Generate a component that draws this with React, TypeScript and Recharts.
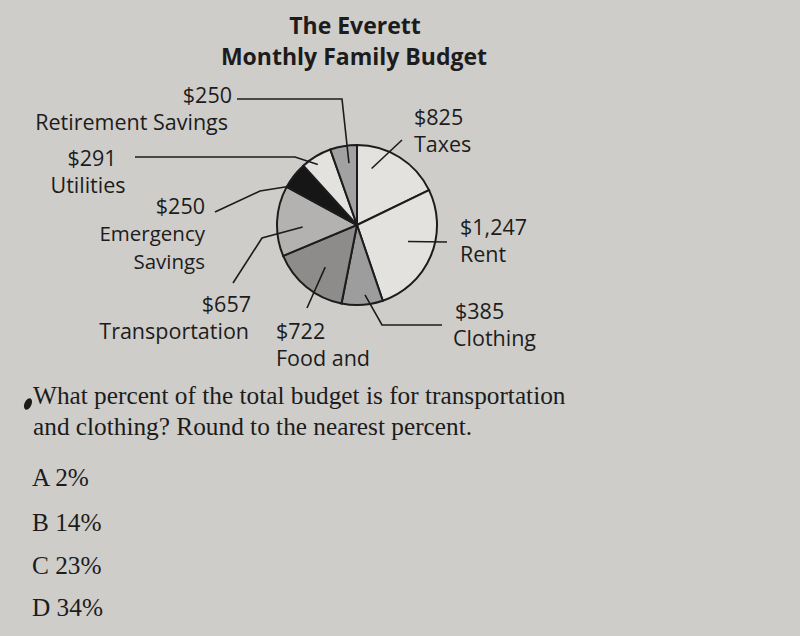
import React from "react";
import { PieChart, Pie, Cell } from "recharts";

// ---- data ----
const categories = ["Taxes", "Rent", "Clothing", "Food and", "Transportation", "Emergency Savings", "Utilities", "Retirement Savings"];
const amounts = [825, 1247, 385, 722, 657, 250, 291, 250];
const nameLines = [["Taxes"], ["Rent"], ["Clothing"], ["Food and"], ["Transportation"], ["Emergency", "Savings"], ["Utilities"], ["Retirement Savings"]];
const titleLines = ["The Everett", "Monthly Family Budget"];
const questionLines = ["What percent of the total budget is for transportation", "and clothing? Round to the nearest percent."];
const choices = ["A 2%", "B 14%", "C 23%", "D 34%"];

const data = categories.map((name, i) => ({ name, value: amounts[i] }));

// ---- styles / layout ----
const PAPER = "#cfcdca";
const INK = "#1c1c1c";
const sliceFill = ["#e4e2df", "#e4e2df", "#9d9d9d", "#8d8c8b", "#b3b2b0", "#161616", "#e4e2df", "#a2a2a2"];
const SANS = "'Open Sans', 'Noto Sans', sans-serif";
const SERIF = "'Liberation Serif', 'DejaVu Serif', serif";
const LABEL_SIZE = 21.5;

// anchor: angle clockwise from north (deg) and fraction of radius where leader begins
type Lay = { a: number; rf: number; pts: [number, number][]; x: number; y: number; anchor: "start" | "end" | "middle"; nx?: number };
const layout: Lay[] = [
  { a: 14.5, rf: 0.73, pts: [[402, 140]], x: 414, y: 125, anchor: "start" },
  { a: 108, rf: 0.67, pts: [[447, 242]], x: 460, y: 235, anchor: "start" },
  { a: 173.5, rf: 0.88, pts: [[382, 325], [442, 325]], x: 455, y: 319, anchor: "start", nx: 453 },
  { a: 217, rf: 0.66, pts: [[307, 308]], x: 276, y: 339, anchor: "start" },
  { a: 268, rf: 0.68, pts: [[262, 238], [233, 283]], x: 251, y: 312, anchor: "end", nx: 249 },
  { a: 298.5, rf: 1.0, pts: [[260, 191], [215, 212]], x: 205, y: 214, anchor: "end" },
  { a: 327, rf: 0.9, pts: [[295, 157], [135, 157]], x: 92, y: 166, anchor: "middle", nx: 88 },
  { a: 352.6, rf: 0.78, pts: [[342, 99], [237, 99]], x: 232, y: 103, anchor: "end", nx: 228 },
];

const renderLabel = (props: any) => {
  const { cx, cy, outerRadius, index } = props;
  const L = layout[index];
  const rad = (L.a * Math.PI) / 180;
  const sx = cx + outerRadius * L.rf * Math.sin(rad);
  const sy = cy - outerRadius * L.rf * Math.cos(rad);
  const points = [[sx, sy], ...L.pts].map((p) => p.join(",")).join(" ");
  const valueText = "$" + amounts[index].toLocaleString("en-US");
  const nx = L.nx ?? L.x;
  return (
    <g key={`lab-${index}`}>
      <polyline points={points} fill="none" stroke={INK} strokeWidth={1.6} />
      <text x={L.x} y={L.y} textAnchor={L.anchor} fontFamily={SANS} fontSize={LABEL_SIZE} fill={INK}>
        {valueText}
      </text>
      {nameLines[index].map((ln, j) => (
        <text key={j} x={nx} y={L.y + 27 + j * 28} textAnchor={L.anchor} fontFamily={SANS} fontSize={nameLines[index].length > 1 ? 20.5 : LABEL_SIZE} fill={INK}>
          {ln}
        </text>
      ))}
    </g>
  );
};

export default function App() {
  return (
    <div style={{ position: "fixed", left: 0, top: 0, width: 800, height: 636, background: PAPER, overflow: "hidden" }}>
      <svg width={800} height={636} style={{ position: "absolute", left: 0, top: 0 }}>
        <text x={355} y={34} textAnchor="middle" fontFamily={SANS} fontWeight={700} fontSize={23} fill={INK}>{titleLines[0]}</text>
        <text x={354} y={65} textAnchor="middle" fontFamily={SANS} fontWeight={700} fontSize={23} fill={INK}>{titleLines[1]}</text>
        <ellipse cx={28} cy={404} rx={3.5} ry={6} transform="rotate(25 28 404)" fill={INK} />
        {questionLines.map((q, i) => (
          <text key={q} x={33} y={404 + i * 31} fontFamily={SERIF} fontSize={25.3} fill={INK}>{q}</text>
        ))}
        {choices.map((c, i) => (
          <text key={c} x={32} y={[486, 531, 574, 616][i]} fontFamily={SERIF} fontSize={25.3} fill={INK}>{c}</text>
        ))}
      </svg>
      <div style={{ position: "absolute", left: 0, top: 0 }}>
        <PieChart width={800} height={636} margin={{ top: 0, right: 0, bottom: 0, left: 0 }}>
          <Pie
            data={data}
            dataKey="value"
            nameKey="name"
            cx={357}
            cy={225}
            outerRadius={80}
            startAngle={90}
            endAngle={-270}
            stroke={INK}
            strokeWidth={2}
            isAnimationActive={false}
            label={renderLabel}
            labelLine={false}
          >
            {data.map((d, i) => (
              <Cell key={d.name} fill={sliceFill[i]} />
            ))}
          </Pie>
        </PieChart>
      </div>
    </div>
  );
}
